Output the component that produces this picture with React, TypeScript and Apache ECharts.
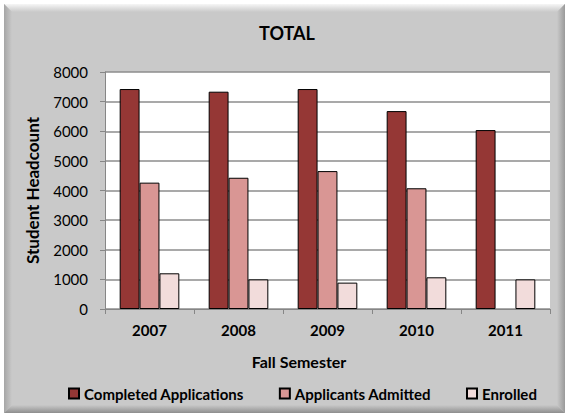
import React, { useEffect, useRef } from "react";
import * as echarts from "echarts";

const categories = ["2007", "2008", "2009", "2010", "2011"];
const completedApplications = [7425, 7335, 7425, 6680, 6040];
const applicantsAdmitted = [4265, 4430, 4655, 4075, null];
const enrolled = [1205, 1000, 890, 1070, 1000];
const seriesNames = ["Completed Applications", "Applicants Admitted", "Enrolled"];
const yTicks = { min: 0, max: 8000, interval: 1000 };

const FONT = "Lato, 'Open Sans', sans-serif";

export default function App() {
  const ref = useRef<HTMLDivElement>(null);
  useEffect(() => {
    if (!ref.current) return;
    const chart = echarts.init(ref.current, undefined, { renderer: "svg" });
    const L = 4, T = 4, R = 565, B = 413, W = 8;
    const grad = (x: number, y: number, x2: number, y2: number, c1: string, c2: string) =>
      new echarts.graphic.LinearGradient(x, y, x2, y2, [
        { offset: 0, color: c1 },
        { offset: 1, color: c2 },
      ]);
    const base = "#C9C9C9";
    chart.setOption({
      animation: false,
      backgroundColor: "#ffffff",
      textStyle: { fontFamily: FONT },
      graphic: [
        { type: "rect", z: -10, shape: { x: L, y: T, width: R - L, height: B - T }, style: { fill: base } },
        {
          type: "polygon", z: -9,
          shape: { points: [[L, T], [R, T], [R - W, T + W], [L + W, T + W]] },
          style: { fill: grad(0, 0, 0, 1, "#F6F6F6", base) },
        },
        {
          type: "polygon", z: -9,
          shape: { points: [[L, T], [L + W, T + W], [L + W, B - W], [L, B]] },
          style: { fill: grad(0, 0, 1, 0, "#A6A6A6", base) },
        },
        {
          type: "polygon", z: -9,
          shape: { points: [[R, T], [R, B], [R - W, B - W], [R - W, T + W]] },
          style: { fill: grad(0, 0, 1, 0, base, "#9A9A9A") },
        },
        {
          type: "polygon", z: -9,
          shape: { points: [[L, B], [L + W, B - W], [R - W, B - W], [R, B]] },
          style: { fill: grad(0, 0, 0, 1, base, "#8E8E8E") },
        },
        {
          type: "text", x: 287, y: 33,
          style: { text: "TOTAL", font: `bold 18px ${FONT}`, fill: "#000", textAlign: "center", textVerticalAlign: "middle" },
        },
        {
          type: "text", x: 299, y: 361,
          style: { text: "Fall Semester", font: `bold 16px ${FONT}`, fill: "#000", textAlign: "center", textVerticalAlign: "middle" },
        },
      ],
      legend: {
        data: seriesNames,
        left: 63,
        top: 381,
        itemWidth: 10,
        itemHeight: 10,
        itemGap: 35,
        icon: "rect",
        textStyle: { fontFamily: FONT, fontSize: 15, fontWeight: "bold", color: "#000" },
      },
      grid: {
        left: 105, right: 17, top: 72, bottom: 106,
        show: true, backgroundColor: "#ffffff", borderWidth: 0,
      },
      xAxis: {
        type: "category",
        data: categories,
        axisLine: { lineStyle: { color: "#868686", width: 1 } },
        axisTick: { show: true, length: 5, lineStyle: { color: "#868686" } },
        axisLabel: { fontFamily: FONT, fontSize: 15, fontWeight: "bold", color: "#000", margin: 13 },
      },
      yAxis: {
        type: "value",
        min: yTicks.min, max: yTicks.max, interval: yTicks.interval,
        name: "Student Headcount",
        nameLocation: "middle",
        nameGap: 64,
        nameTextStyle: { fontFamily: FONT, fontSize: 17, fontWeight: "bold", color: "#000" },
        axisLine: { show: true, lineStyle: { color: "#868686", width: 1 } },
        axisTick: { show: true, length: 5, lineStyle: { color: "#868686" } },
        axisLabel: { fontFamily: FONT, fontSize: 15, color: "#000", margin: 17, formatter: (v: number) => String(v) },
        splitLine: { lineStyle: { color: "#8C8C8C", width: 1.5 } },
      },
      series: [
        { name: seriesNames[0], type: "bar", data: completedApplications, barGap: "0%", barCategoryGap: "33%",
          itemStyle: { color: "#953735", borderColor: "#000", borderWidth: 1 } },
        { name: seriesNames[1], type: "bar", data: applicantsAdmitted,
          itemStyle: { color: "#D99694", borderColor: "#000", borderWidth: 1 } },
        { name: seriesNames[2], type: "bar", data: enrolled,
          itemStyle: { color: "#F2DCDB", borderColor: "#000", borderWidth: 1 } },
      ],
    });
    return () => chart.dispose();
  }, []);
  return (
    <div
      ref={ref}
      style={{ position: "fixed", left: 0, top: 0, width: 567, height: 415 }}
    />
  );
}
